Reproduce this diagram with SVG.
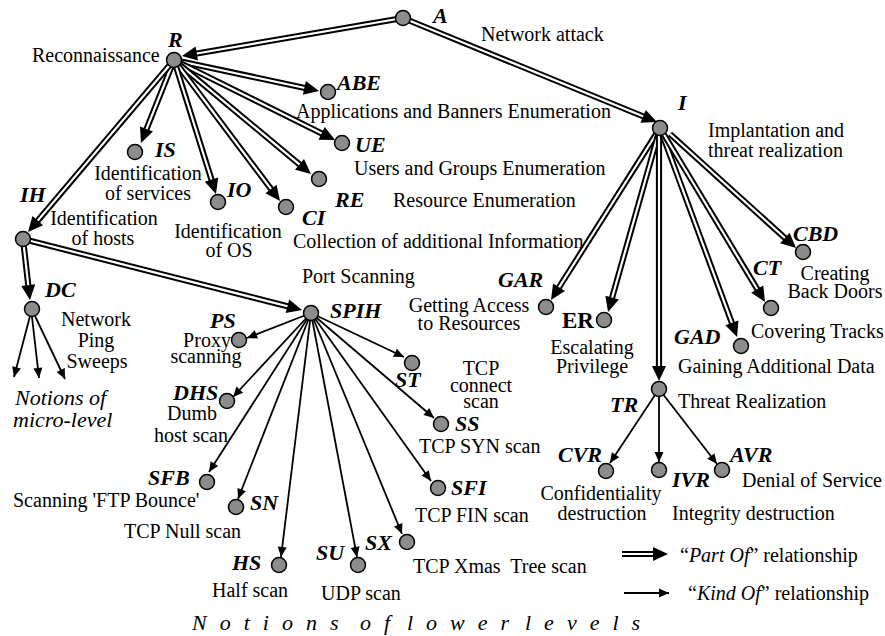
<svg xmlns="http://www.w3.org/2000/svg" width="885" height="636" viewBox="0 0 885 636">
<style>
text{font-family:"Liberation Serif","Times New Roman",serif;fill:#000}
.t{font-size:20px}
.c{text-anchor:middle}
.l{font-size:22px;font-weight:bold;font-style:italic}
.b{font-size:23px;font-weight:bold}
.it{font-style:italic}
.o{stroke:#000;stroke-width:6.2;fill:none}
.w{stroke:#fff;stroke-width:2.2;fill:none;marker-end:url(#hd)}
.s{stroke:#000;stroke-width:1.8;fill:none;marker-end:url(#hs)}
.n{fill:#8c8c8c;stroke:#000;stroke-width:1.5}
.pre{white-space:pre}
</style>
<defs>
<marker id="hd" markerUnits="userSpaceOnUse" markerWidth="18" markerHeight="16" refX="1" refY="7" orient="auto" overflow="visible"><path d="M-2,0 L13,7 L-2,14 z" fill="#000"/></marker>
<marker id="hs" markerUnits="userSpaceOnUse" markerWidth="12" markerHeight="10" refX="10" refY="4.5" orient="auto" overflow="visible"><path d="M0,0 L10,4.5 L0,9 z" fill="#000"/></marker>
</defs>
<rect width="885" height="636" fill="#fff"/>
<g id="connectors">
<g><line class="o" x1="403" y1="18" x2="193.8" y2="54"/><line class="w" x1="403" y1="18" x2="193.8" y2="54"/></g>
<g><line class="o" x1="403" y1="18" x2="645.9" y2="117.5"/><line class="w" x1="403" y1="18" x2="645.9" y2="117.5"/></g>
<g><line class="o" x1="174" y1="60" x2="307.3" y2="88.5"/><line class="w" x1="174" y1="60" x2="307.3" y2="88.5"/></g>
<g><line class="o" x1="174" y1="60" x2="324.3" y2="134.7"/><line class="w" x1="174" y1="60" x2="324.3" y2="134.7"/></g>
<g><line class="o" x1="174" y1="60" x2="301.8" y2="166.3"/><line class="w" x1="174" y1="60" x2="301.8" y2="166.3"/></g>
<g><line class="o" x1="174" y1="60" x2="272.8" y2="191.4"/><line class="w" x1="174" y1="60" x2="272.8" y2="191.4"/></g>
<g><line class="o" x1="174" y1="60" x2="212.4" y2="182.5"/><line class="w" x1="174" y1="60" x2="212.4" y2="182.5"/></g>
<g><line class="o" x1="174" y1="60" x2="145.4" y2="131.8"/><line class="w" x1="174" y1="60" x2="145.4" y2="131.8"/></g>
<g><line class="o" x1="174" y1="60" x2="35.8" y2="222.9"/><line class="w" x1="174" y1="60" x2="35.8" y2="222.9"/></g>
<g><line class="o" x1="23" y1="239" x2="28.6" y2="288.1"/><line class="w" x1="23" y1="239" x2="28.6" y2="288.1"/></g>
<g><line class="o" x1="23" y1="239" x2="290.4" y2="307"/><line class="w" x1="23" y1="239" x2="290.4" y2="307"/></g>
<g><line class="o" x1="660" y1="128" x2="557.4" y2="289.9"/><line class="w" x1="660" y1="128" x2="557.4" y2="289.9"/></g>
<g><line class="o" x1="660" y1="128" x2="611.3" y2="300.5"/><line class="w" x1="660" y1="128" x2="611.3" y2="300.5"/></g>
<g><line class="o" x1="659" y1="128" x2="659" y2="369"/><line class="w" x1="659" y1="128" x2="659" y2="369"/></g>
<g><line class="o" x1="660" y1="128" x2="732.9" y2="325.7"/><line class="w" x1="660" y1="128" x2="732.9" y2="325.7"/></g>
<g><line class="o" x1="660" y1="128" x2="758.8" y2="291.7"/><line class="w" x1="660" y1="128" x2="758.8" y2="291.7"/></g>
<g><line class="o" x1="670" y1="134" x2="787.1" y2="240"/><line class="w" x1="670" y1="134" x2="787.1" y2="240"/></g>
<line class="s" x1="311" y1="313" x2="247" y2="338"/>
<line class="s" x1="311" y1="313" x2="233" y2="397"/>
<line class="s" x1="311" y1="313" x2="209" y2="472"/>
<line class="s" x1="311" y1="313" x2="238" y2="499"/>
<line class="s" x1="311" y1="313" x2="281" y2="557"/>
<line class="s" x1="311" y1="313" x2="357" y2="557"/>
<line class="s" x1="311" y1="313" x2="402" y2="534"/>
<line class="s" x1="311" y1="313" x2="431" y2="481"/>
<line class="s" x1="311" y1="313" x2="434" y2="418"/>
<line class="s" x1="311" y1="313" x2="404" y2="357"/>
<line class="s" x1="30" y1="316" x2="14" y2="377"/>
<line class="s" x1="32" y1="317" x2="39" y2="378"/>
<line class="s" x1="35" y1="316" x2="65" y2="379"/>
<line class="s" x1="659" y1="389" x2="610" y2="463"/>
<line class="s" x1="659" y1="389" x2="659" y2="462"/>
<line class="s" x1="659" y1="389" x2="717" y2="464"/>
</g>
<g id="legend">
<line class="o" x1="622" y1="554" x2="656" y2="554"/><line class="w" x1="622" y1="554" x2="656" y2="554"/>
<line class="s" x1="624" y1="593" x2="669" y2="593"/>
<text class="t" x="680" y="562">“<tspan class="it">Part Of</tspan>” relationship</text>
<text class="t" x="688" y="600">“<tspan class="it">Kind Of</tspan>” relationship</text>
</g>
<g id="A"><circle class="n" cx="403" cy="18" r="7.5"/><text class="l" x="433" y="23">A</text><text class="t" x="481" y="41">Network attack</text></g>
<g id="R"><circle class="n" cx="174" cy="60" r="7.5"/><text class="l" x="168" y="47">R</text><text class="t" x="32" y="62">Reconnaissance</text></g>
<g id="ABE"><circle class="n" cx="328" cy="92" r="7.5"/><text class="l" x="337" y="90">ABE</text><text class="t" x="296" y="118">Applications and Banners Enumeration</text></g>
<g id="UE"><circle class="n" cx="342" cy="143" r="7.5"/><text class="l" x="355" y="152">UE</text><text class="t" x="354" y="175">Users and Groups Enumeration</text></g>
<g id="RE"><circle class="n" cx="319" cy="179" r="7.5"/><text class="l" x="335" y="207">RE</text><text class="t" x="393" y="207">Resource Enumeration</text></g>
<g id="CI"><circle class="n" cx="286" cy="207" r="7.5"/><text class="l" x="302" y="225">CI</text><text class="t" x="293" y="248">Collection of additional Information</text></g>
<g id="IO"><circle class="n" cx="218" cy="202" r="7.5"/><text class="l" x="227" y="197">IO</text><text class="t c" x="228" y="238">Identification</text><text class="t c" x="229" y="257">of OS</text></g>
<g id="IS"><circle class="n" cx="135" cy="152" r="7.5"/><text class="l" x="155" y="157">IS</text><text class="t c" x="148" y="180">Identification</text><text class="t c" x="148" y="200">of services</text></g>
<g id="IH"><circle class="n" cx="23" cy="239" r="7.5"/><text class="l" x="20" y="202">IH</text><text class="t c" x="104" y="225">Identification</text><text class="t c" x="103" y="245">of hosts</text></g>
<g id="DC"><circle class="n" cx="32" cy="309" r="7.5"/><text class="l" x="45" y="297">DC</text><text class="t c" x="96" y="326">Network</text><text class="t c" x="96" y="347">Ping</text><text class="t c" x="97" y="368">Sweeps</text></g>
<g id="micro"><text class="t it" style="font-size:22px" x="15" y="405">Notions of</text><text class="t it" style="font-size:22px" x="13" y="427">micro-level</text></g>
<g id="SPIH"><circle class="n" cx="311" cy="313" r="7.5"/><text class="l" x="330" y="318">SPIH</text><text class="t" x="302" y="283">Port Scanning</text></g>
<g id="PS"><circle class="n" cx="239" cy="340" r="7.5"/><text class="l" x="210" y="328">PS</text><text class="t c" x="207" y="347">Proxy</text><text class="t c" x="206" y="363">scanning</text></g>
<g id="DHS"><circle class="n" cx="227" cy="401" r="7.5"/><text class="l" x="173" y="400">DHS</text><text class="t c" x="192" y="420">Dumb</text><text class="t c" x="191" y="442">host scan</text></g>
<g id="ST"><circle class="n" cx="412" cy="363" r="7.5"/><text class="l" x="395" y="387">ST</text><text class="t c" x="481" y="375">TCP</text><text class="t c" x="481" y="392">connect</text><text class="t c" x="481" y="408">scan</text></g>
<g id="SS"><circle class="n" cx="441" cy="424" r="7.5"/><text class="l" x="455" y="431">SS</text><text class="t" x="419" y="453">TCP SYN scan</text></g>
<g id="SFI"><circle class="n" cx="438" cy="488" r="7.5"/><text class="l" x="451" y="495">SFI</text><text class="t" x="415" y="522">TCP FIN scan</text></g>
<g id="SX"><circle class="n" cx="407" cy="542" r="7.5"/><text class="l" x="365" y="550">SX</text><text class="t pre" x="413" y="573">TCP Xmas  Tree scan</text></g>
<g id="SU"><circle class="n" cx="358" cy="565" r="7.5"/><text class="l" x="316" y="560">SU</text><text class="t" x="321" y="600">UDP scan</text></g>
<g id="HS"><circle class="n" cx="279" cy="565" r="7.5"/><text class="l" x="232" y="570">HS</text><text class="t" x="212" y="597">Half scan</text></g>
<g id="SN"><circle class="n" cx="236" cy="507" r="7.5"/><text class="l" x="250" y="510">SN</text><text class="t" x="124" y="538">TCP Null scan</text></g>
<g id="SFB"><circle class="n" cx="207" cy="482" r="7.5"/><text class="l" x="148" y="485">SFB</text><text class="t" x="13" y="507">Scanning 'FTP Bounce'</text></g>
<g id="I"><circle class="n" cx="660" cy="128" r="7.5"/><text class="l" x="678" y="110">I</text><text class="t" x="708" y="137">Implantation and</text><text class="t" x="708" y="157">threat realization</text></g>
<g id="GAR"><circle class="n" cx="546" cy="307" r="7.5"/><text class="l" x="498" y="287">GAR</text><text class="t c" x="469" y="312">Getting Access</text><text class="t c" x="469" y="330">to Resources</text></g>
<g id="ER"><circle class="n" cx="604" cy="320" r="7.5"/><text class="b" x="562" y="328">ER</text><text class="t c" x="592" y="354">Escalating</text><text class="t c" x="592" y="373">Privilege</text></g>
<g id="GAD"><circle class="n" cx="741" cy="346" r="7.5"/><text class="l" x="674" y="344">GAD</text><text class="t" x="678" y="373">Gaining Additional Data</text></g>
<g id="CT"><circle class="n" cx="771" cy="308" r="7.5"/><text class="l" x="753" y="275">CT</text><text class="t" x="751" y="338">Covering Tracks</text></g>
<g id="CBD"><circle class="n" cx="803" cy="252" r="7.5"/><text class="l" x="793" y="241">CBD</text><text class="t c" x="835" y="280">Creating</text><text class="t c" x="835" y="298">Back Doors</text></g>
<g id="TR"><circle class="n" cx="659" cy="389" r="7.5"/><text class="l" x="610" y="412">TR</text><text class="t" x="678" y="408">Threat Realization</text></g>
<g id="CVR"><circle class="n" cx="606" cy="471" r="7.5"/><text class="l" x="558" y="462">CVR</text><text class="t c" x="601" y="500">Confidentiality</text><text class="t c" x="602" y="520">destruction</text></g>
<g id="IVR"><circle class="n" cx="659" cy="470" r="7.5"/><text class="l" x="672" y="487">IVR</text><text class="t" x="672" y="520">Integrity destruction</text></g>
<g id="AVR"><circle class="n" cx="722" cy="470" r="7.5"/><text class="l" x="730" y="462">AVR</text><text class="t" x="742" y="487">Denial of Service</text></g>
<text class="it" style="font-size:22px;letter-spacing:13px" y="630"><tspan x="192">Notions</tspan> <tspan x="360">of</tspan> <tspan x="407">lower</tspan> <tspan x="525">levels</tspan></text>
</svg>
